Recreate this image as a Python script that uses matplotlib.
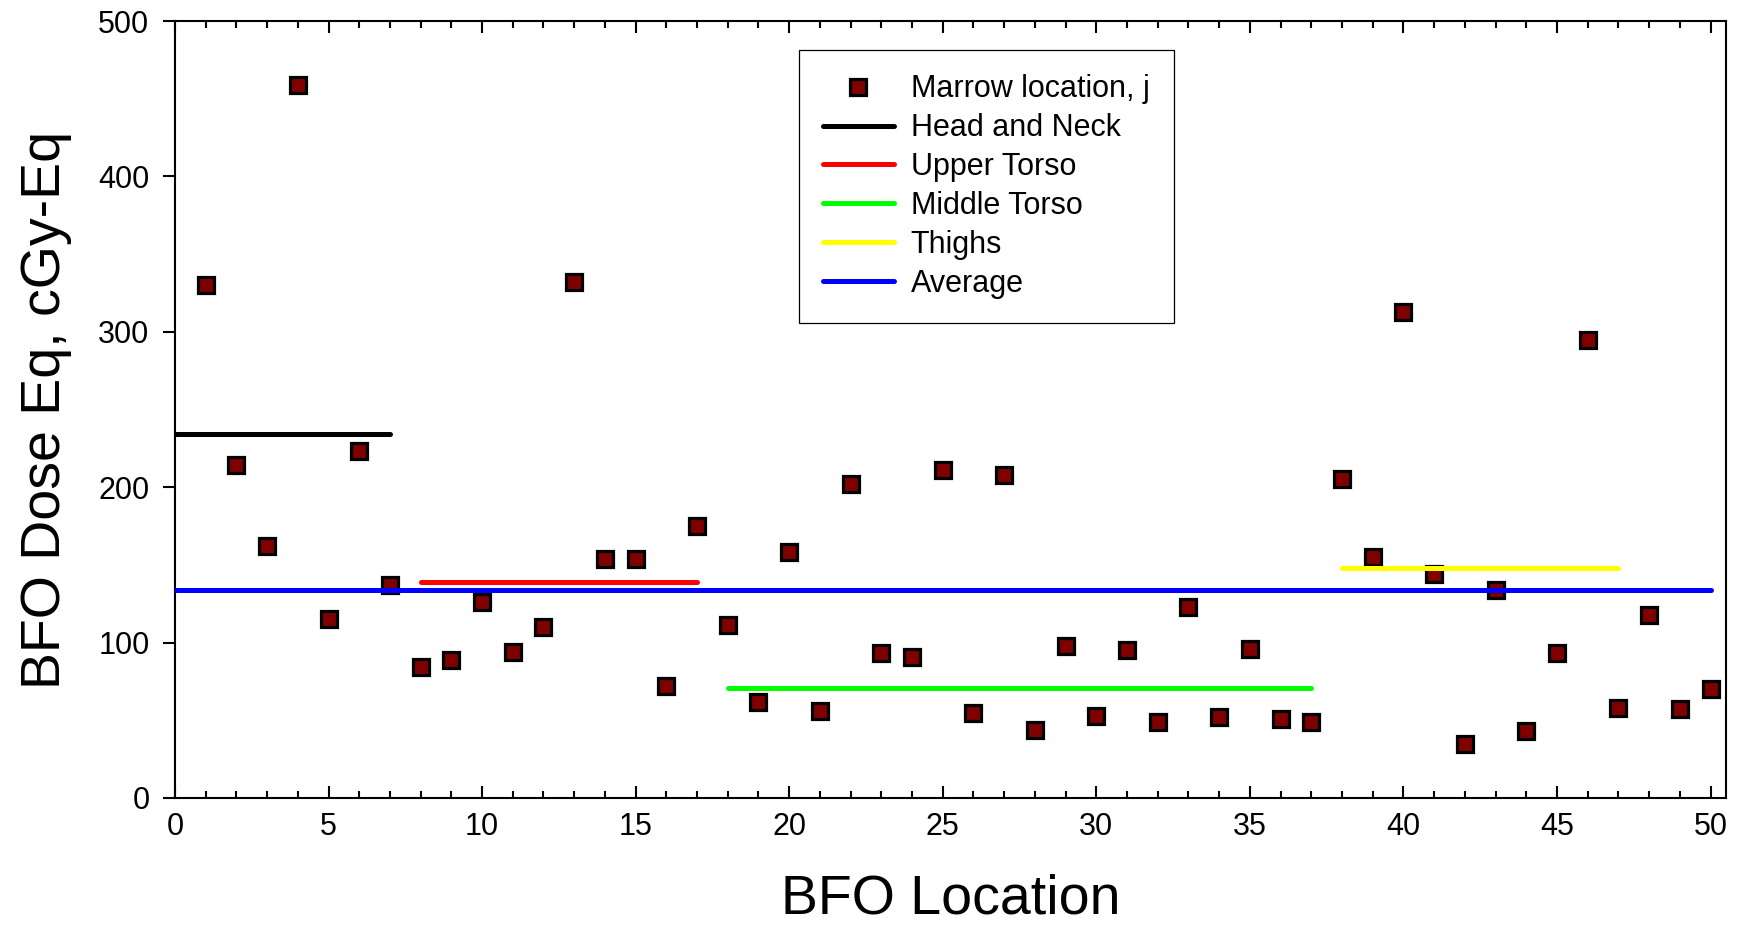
import numpy as np
import matplotlib.pyplot as plt
from matplotlib.ticker import MultipleLocator

plt.rcParams['font.family'] = ['Liberation Sans', 'DejaVu Sans']

# Dose at each marrow location
location = np.arange(1, 51)
dose = [330, 214, 162, 459, 115, 223, 137, 84, 89, 126,
        94, 110, 332, 154, 154, 72, 175, 111, 62, 158,
        56, 202, 93, 91, 211, 55, 208, 44, 98, 53,
        95, 49, 123, 52, 96, 51, 49, 205, 155, 313,
        144, 35, 134, 43, 93, 295, 58, 118, 57, 70]

# Region averages: name, first location, last location, value, colour
regions = ["Head and Neck", "Upper Torso", "Middle Torso", "Thighs", "Average"]
region_start = [0, 8, 18, 38, 0]
region_end = [7, 17, 37, 47, 50]
region_dose = [234, 139, 71, 148, 134]
region_color = ["black", "#ff0000", "#00ff00", "#ffff00", "#0000ff"]

fig = plt.figure(figsize=(17.46, 9.27), dpi=100)
ax = fig.add_axes([0.1002, 0.1392, 0.8883, 0.8381])

ax.plot(location, dose, linestyle="none", marker="s", markersize=11.5,
        markerfacecolor="#800000", markeredgecolor="black", markeredgewidth=2.3,
        label="Marrow location, j", zorder=3)

for name, x0, x1, val, col in zip(regions, region_start, region_end, region_dose, region_color):
    ax.plot([x0, x1], [val, val], color=col, linewidth=3.6,
            solid_capstyle="round", label=name, zorder=4)

ax.set_xlim(0, 50.5)
ax.set_ylim(0, 500)
ax.xaxis.set_major_locator(MultipleLocator(5))
ax.xaxis.set_minor_locator(MultipleLocator(1))
ax.yaxis.set_major_locator(MultipleLocator(100))

for s in ax.spines.values():
    s.set_linewidth(1.5)

ax.tick_params(axis="x", which="both", direction="in", top=True, width=1.5,
               labelsize=22, pad=10)
ax.tick_params(axis="x", which="major", length=8.6)
ax.tick_params(axis="x", which="minor", length=5)
ax.tick_params(axis="y", direction="out", right=False, width=1.5,
               length=8.4, labelsize=22, pad=10)

ax.set_xlabel("BFO Location", fontsize=40, labelpad=23)
ax.set_ylabel("BFO Dose Eq, cGy-Eq", fontsize=40, labelpad=19)

leg = ax.legend(loc="upper left", bbox_to_anchor=(0.4023, 0.9627), borderaxespad=0,
                fontsize=22, numpoints=1, handlelength=2.3, handletextpad=0.56,
                labelspacing=0.29, borderpad=0.8, fancybox=False, framealpha=1)
leg.get_frame().set_edgecolor("black")
leg.get_frame().set_linewidth(0.9)

fig.savefig("out.png", dpi=100)
